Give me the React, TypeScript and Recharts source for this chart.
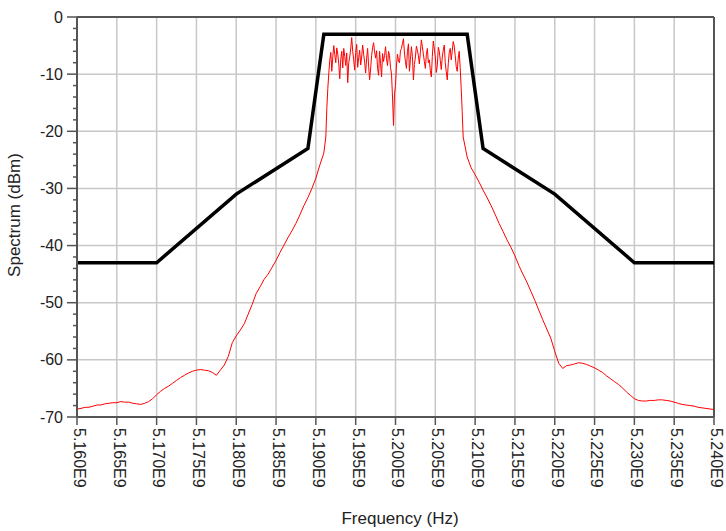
import React from 'react';
import { LineChart, Line, XAxis, YAxis, CartesianGrid, ReferenceLine } from 'recharts';

// x axis ticks (GHz) and y axis ticks (dBm)
const X_TICKS = [
  5.16, 5.165, 5.17, 5.175, 5.18, 5.185, 5.19, 5.195, 5.2,
  5.205, 5.21, 5.215, 5.22, 5.225, 5.23, 5.235, 5.24,
];
const Y_MAJOR = [0, -10, -20, -30, -40, -50, -60, -70];
const Y_TICKS = Array.from({ length: 36 }, (_, i) => -70 + 2 * i);

// spectral mask
const MASK_FREQ = [5.16, 5.17, 5.18, 5.189, 5.191, 5.209, 5.211, 5.22, 5.23, 5.24];
const MASK_DBM = [-43, -43, -31, -23, -3, -3, -23, -31, -43, -43];

// measured spectrum, read off the plot in three pieces
// lower skirt: 5.1600 .. 5.1910 GHz, every 0.5 MHz
const LOWER_START = 5.16;
const LOWER_STEP = 0.0005;
const LOWER_DBM = [
  -68.6, -68.5, -68.3, -68.3, -68.1, -67.9, -67.9, -67.7, -67.6, -67.5,
  -67.5, -67.3, -67.4, -67.4, -67.6, -67.7, -67.8, -67.6, -67.3, -66.8,
  -66.1, -65.5, -65.0, -64.6, -64.1, -63.6, -63.1, -62.7, -62.3, -62.0,
  -61.8, -61.7, -61.8, -61.9, -62.2, -62.7, -61.8, -60.9, -59.4, -57.0,
  -55.8, -54.8, -53.7, -52.0, -50.3, -48.4, -47.2, -45.9, -45.0, -43.8,
  -42.6, -41.2, -39.9, -38.6, -37.4, -36.1, -34.6, -33.0, -31.6, -30.0,
  -28.2, -25.9, -23.8,
];
// in-band: 5.19125 .. 5.2085 GHz, every 0.125 MHz
const BAND_START = 5.19125;
const BAND_STEP = 0.000125;
const BAND_DBM = [
  -21.0, -16.0, -12.5, -9.8, -7.5, -6.2, -9.5, -7.0, -5.0, -6.6, -8.0, -5.4, -6.5, -8.2, -10.8, -7.4, -6.0, -8.9, -5.5, -6.9,
  -8.5, -6.3, -11.5, -8.0, -7.0, -5.6, -3.6, -6.0, -7.5, -9.3, -6.2, -4.8, -8.8, -7.1, -5.8, -8.4, -7.0, -4.9, -6.5, -7.9,
  -9.8, -7.2, -5.5, -8.6, -11.0, -9.1, -6.8, -5.3, -4.5, -6.1, -7.2, -5.9, -9.0, -10.2, -6.0, -8.1, -10.5, -6.4, -7.8, -6.7,
  -5.2, -7.3, -8.5, -6.0, -6.8, -8.8, -10.0, -14.0, -19.0, -13.5, -12.0, -8.4, -6.5, -7.7, -8.0, -5.9, -5.5, -4.6, -3.8, -6.3,
  -7.8, -9.0, -6.0, -4.7, -9.5, -7.4, -5.2, -6.9, -11.0, -8.3, -7.0, -5.1, -5.8, -6.8, -8.2, -6.1, -4.0, -5.2, -6.5, -7.8,
  -9.0, -6.6, -5.5, -8.0, -7.5, -9.4, -10.5, -6.9, -4.2, -5.6, -7.0, -9.7, -8.5, -5.3, -6.0, -7.6, -9.2, -7.0, -5.8, -4.9,
  -8.0, -9.6, -11.0, -8.2, -6.2, -5.5, -7.5, -6.0, -4.3, -5.1, -6.8, -8.7, -9.5, -7.2, -6.0, -8.9, -12.5, -16.5, -21.0,
];
// upper skirt: 5.2090 .. 5.2400 GHz, every 0.5 MHz
const UPPER_START = 5.209;
const UPPER_STEP = 0.0005;
const UPPER_DBM = [
  -24.5, -26.4, -27.6, -28.9, -30.3, -31.6, -33.0, -34.5, -36.1, -37.5,
  -39.0, -40.3, -41.8, -43.5, -45.0, -46.4, -48.0, -49.6, -51.3, -53.0,
  -54.6, -56.2, -58.5, -60.6, -61.5, -61.0, -60.9, -60.7, -60.5, -60.6,
  -60.8, -61.1, -61.4, -61.8, -62.2, -62.8, -63.3, -63.8, -64.3, -64.9,
  -65.6, -66.2, -66.8, -67.1, -67.2, -67.2, -67.1, -67.1, -67.0, -67.0,
  -67.1, -67.2, -67.4, -67.6, -67.8, -67.9, -68.0, -68.1, -68.3, -68.4,
  -68.5, -68.6, -68.7,
];

const piece = (start: number, step: number, vals: number[]) =>
  vals.map((v, i) => ({ f: start + i * step, v }));

const spectrum = [
  ...piece(LOWER_START, LOWER_STEP, LOWER_DBM),
  ...piece(BAND_START, BAND_STEP, BAND_DBM),
  ...piece(UPPER_START, UPPER_STEP, UPPER_DBM),
];
const mask = MASK_FREQ.map((f, i) => ({ f, v: MASK_DBM[i] }));

const FONT = '"Liberation Sans", Arial, sans-serif';
const TEXT = '#222';
const AXIS = '#555';

const XTick = ({ x, y, payload }: any) => (
  <g>
    <line x1={x} y1={y} x2={x} y2={y + 8} stroke={AXIS} strokeWidth={1.5} />
    <text
      x={x}
      y={y + 11}
      transform={`rotate(90 ${x} ${y + 11})`}
      textAnchor="start"
      dy="0.2em"
      fontSize={16}
      fontFamily={FONT}
      fill={TEXT}
    >
      {payload.value.toFixed(3)}E9
    </text>
  </g>
);

const YTick = ({ x, y, payload }: any) => {
  const major = Y_MAJOR.includes(payload.value);
  return (
    <g>
      <line x1={x - (major ? 10 : 4)} y1={y} x2={x} y2={y} stroke={AXIS} strokeWidth={1.5} />
      {major && (
        <text x={x - 14} y={y} dy="0.35em" textAnchor="end" fontSize={16} fontFamily={FONT} fill={TEXT}>
          {payload.value}
        </text>
      )}
    </g>
  );
};

export default function App() {
  return (
    <div style={{ position: 'relative', width: 726, height: 531, overflow: 'hidden' }}>
      <style>{'body{margin:0}'}</style>
      <LineChart width={726} height={531} margin={{ top: 17, right: 12, left: 0, bottom: 0 }}>
        <CartesianGrid stroke="#c8c8c8" strokeWidth={1.5} horizontalValues={Y_MAJOR} verticalValues={X_TICKS} />
        <XAxis
          dataKey="f"
          type="number"
          domain={[5.16, 5.24]}
          ticks={X_TICKS}
          interval={0}
          height={114}
          tickSize={0}
          tickMargin={0}
          tickLine={false}
          axisLine={{ stroke: AXIS, strokeWidth: 2 }}
          tick={<XTick />}
          allowDataOverflow
        />
        <YAxis
          type="number"
          domain={[-70, 0]}
          ticks={Y_TICKS}
          interval={0}
          width={77}
          tickSize={0}
          tickMargin={0}
          tickLine={false}
          axisLine={{ stroke: AXIS, strokeWidth: 2 }}
          tick={<YTick />}
          allowDataOverflow
        />
        <ReferenceLine y={0} stroke={AXIS} strokeWidth={2} />
        <ReferenceLine x={5.24} stroke={AXIS} strokeWidth={2} />
        <Line data={spectrum} dataKey="v" stroke="#ff0000" strokeWidth={1} dot={false} isAnimationActive={false} />
        <Line data={mask} dataKey="v" stroke="#000" strokeWidth={3.5} dot={false} isAnimationActive={false} />
      </LineChart>
      <div
        style={{
          position: 'absolute', left: 15, top: 215, transform: 'translate(-50%, -50%) rotate(-90deg)',
          whiteSpace: 'nowrap', fontFamily: FONT, fontSize: 17, color: TEXT,
        }}
      >
        Spectrum (dBm)
      </div>
      <div
        style={{
          position: 'absolute', left: 400, top: 519, transform: 'translate(-50%, -50%)',
          whiteSpace: 'nowrap', fontFamily: FONT, fontSize: 17, color: TEXT,
        }}
      >
        Frequency (Hz)
      </div>
    </div>
  );
}
